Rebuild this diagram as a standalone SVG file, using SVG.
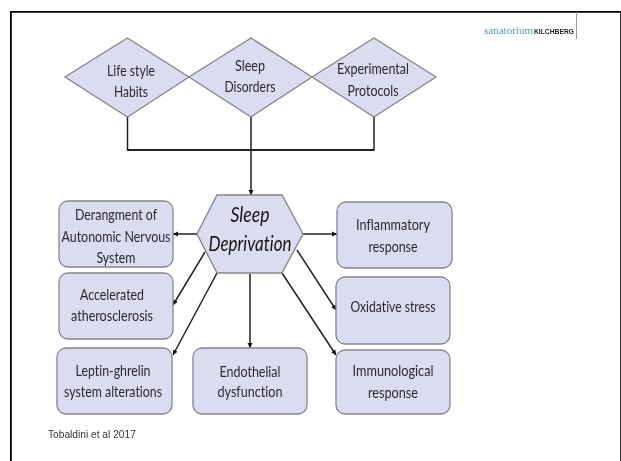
<svg xmlns="http://www.w3.org/2000/svg" width="621" height="461" viewBox="0 0 621 461">
<style>
.n{fill:#dcdcf0;stroke:#84848e;stroke-width:1.3}
.t{font-family:Lato,"Open Sans",sans-serif;font-size:15px;fill:#2a2a30;text-anchor:middle;font-variant-ligatures:none}
.h{font-family:Lato,"Open Sans",sans-serif;font-size:21px;font-style:italic;fill:#151515;text-anchor:middle;font-variant-ligatures:none}
.c{fill:none;stroke:#222;stroke-width:1.5}
</style>
<defs>
<marker id="a" markerUnits="userSpaceOnUse" markerWidth="6" markerHeight="6" refX="5" refY="3" orient="auto"><path d="M0,0.500L5,3L0,5.500z" fill="#111"/></marker>
<filter id="b" x="0" y="0" width="100%" height="100%"><feGaussianBlur stdDeviation="0.45"/></filter>
</defs>
<rect width="621" height="461" fill="#fff"/>
<g filter="url(#b)">
<path d="M621,11.500H10.500V461" fill="none" stroke="#000" stroke-width="2.600"/>
<path d="M620.500,11V461" fill="none" stroke="#333" stroke-width="1"/>
<path d="M576.500,12V39" stroke="#999" stroke-width="1" fill="none"/>
<g id="logo"><text x="484" y="33.500" font-family="Liberation Serif,serif" font-size="11" fill="#4f9fd0" textLength="49" lengthAdjust="spacingAndGlyphs">sanatorium</text><text x="534" y="33.500" font-family="Liberation Sans,sans-serif" font-size="6.700" font-weight="bold" fill="#222" textLength="40" lengthAdjust="spacingAndGlyphs">KILCHBERG</text></g>
<g id="connectors">
<path class="c" d="M127.500,117V150H374V117"/>
<path class="c" d="M127.500,150H374" style="stroke-width:2"/>
<path class="c" d="M251,117V195" marker-end="url(#a)"/>
<path class="c" d="M197,234H173" marker-end="url(#a)"/>
<path class="c" d="M205,252L173,305" marker-end="url(#a)"/>
<path class="c" d="M217,273L173,355" marker-end="url(#a)"/>
<path class="c" d="M250,274V348" marker-end="url(#a)"/>
<path class="c" d="M282,273L336,355" marker-end="url(#a)"/>
<path class="c" d="M297,250L336,310" marker-end="url(#a)"/>
<path class="c" d="M303,234H337" marker-end="url(#a)"/>
</g>
<g id="life"><path class="n" d="M127.500,38L189,77L127.500,117L65,77z"/><text class="t" x="131" y="76" textLength="48" lengthAdjust="spacingAndGlyphs">Life style</text><text class="t" x="131" y="97" textLength="34" lengthAdjust="spacingAndGlyphs">Habits</text></g>
<g id="disorders"><path class="n" d="M251,38L312,77L251,117L189,77z"/><text class="t" x="250" y="71" textLength="30" lengthAdjust="spacingAndGlyphs">Sleep</text><text class="t" x="250" y="92" textLength="51" lengthAdjust="spacingAndGlyphs">Disorders</text></g>
<g id="protocols"><path class="n" d="M374,38L436,77L374,117L312,77z"/><text class="t" x="373" y="74" textLength="72" lengthAdjust="spacingAndGlyphs">Experimental</text><text class="t" x="373" y="96" textLength="51" lengthAdjust="spacingAndGlyphs">Protocols</text></g>
<g id="hub"><path class="n" d="M217,195H282L303,234L282,273H217L197,234z"/><text class="h" x="250" y="222" textLength="39" lengthAdjust="spacingAndGlyphs">Sleep</text><text class="h" x="250" y="251" textLength="83" lengthAdjust="spacingAndGlyphs">Deprivation</text></g>
<g id="derangement"><rect class="n" x="59" y="201" width="114" height="66" rx="9"/><text class="t" x="116" y="220" textLength="82" lengthAdjust="spacingAndGlyphs">Derangment of</text><text class="t" x="116" y="242" textLength="109" lengthAdjust="spacingAndGlyphs">Autonomic Nervous</text><text class="t" x="116" y="263" textLength="39" lengthAdjust="spacingAndGlyphs">System</text></g>
<g id="athero"><rect class="n" x="59" y="273" width="114" height="66" rx="9"/><text class="t" x="112" y="300" textLength="64" lengthAdjust="spacingAndGlyphs">Accelerated</text><text class="t" x="112" y="321" textLength="82" lengthAdjust="spacingAndGlyphs">atherosclerosis</text></g>
<g id="leptin"><rect class="n" x="57" y="348" width="115" height="66" rx="9"/><text class="t" x="113" y="376" textLength="75" lengthAdjust="spacingAndGlyphs">Leptin-ghrelin</text><text class="t" x="113" y="397" textLength="98" lengthAdjust="spacingAndGlyphs">system alterations</text></g>
<g id="endothelial"><rect class="n" x="193" y="348" width="114" height="66" rx="9"/><text class="t" x="250" y="377" textLength="61" lengthAdjust="spacingAndGlyphs">Endothelial</text><text class="t" x="250" y="397" textLength="65" lengthAdjust="spacingAndGlyphs">dysfunction</text></g>
<g id="inflammatory"><rect class="n" x="337" y="202" width="115" height="66" rx="9"/><text class="t" x="393" y="230" textLength="74" lengthAdjust="spacingAndGlyphs">Inflammatory</text><text class="t" x="393" y="252" textLength="49" lengthAdjust="spacingAndGlyphs">response</text></g>
<g id="oxidative"><rect class="n" x="336" y="277" width="114" height="67" rx="9"/><text class="t" x="393" y="312" textLength="85" lengthAdjust="spacingAndGlyphs">Oxidative stress</text></g>
<g id="immunological"><rect class="n" x="336" y="350" width="114" height="64" rx="9"/><text class="t" x="393" y="376" textLength="81" lengthAdjust="spacingAndGlyphs">Immunological</text><text class="t" x="393" y="398" textLength="50" lengthAdjust="spacingAndGlyphs">response</text></g>
<text x="48" y="438" font-family="Liberation Sans,sans-serif" font-size="10.200" fill="#333">Tobaldini et al 2017</text>
</g>
</svg>
